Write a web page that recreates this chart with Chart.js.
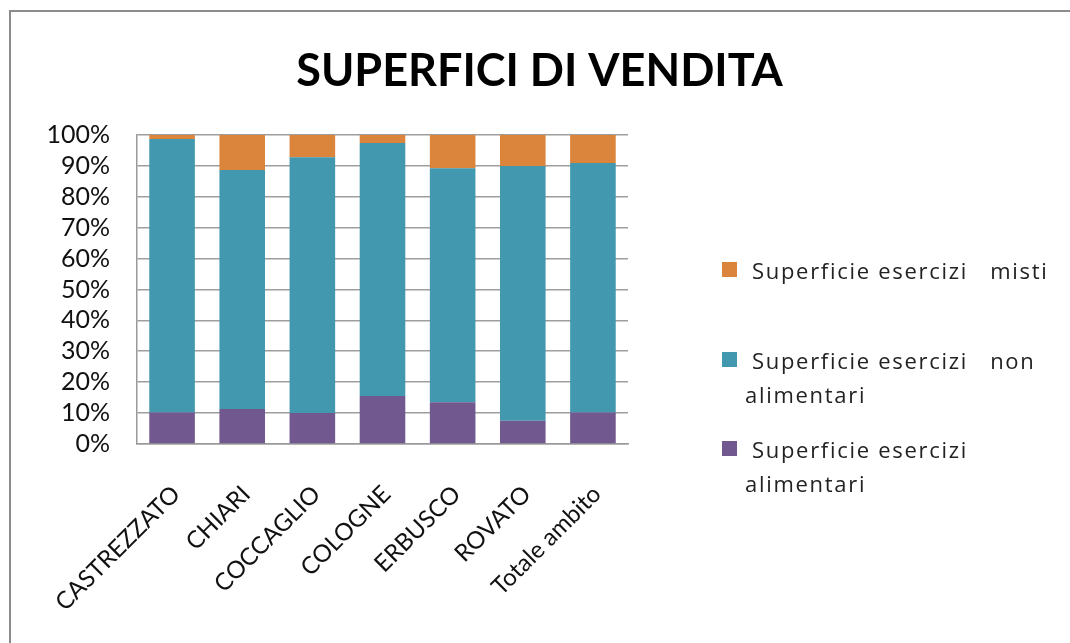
<!DOCTYPE html>
<html>
<head>
<meta charset="utf-8">
<script src="https://cdn.jsdelivr.net/npm/chart.js@4/dist/chart.umd.min.js"></script>
<style>
  html, body { margin: 0; padding: 0; background: #fff; }
  #wrap { position: relative; width: 1070px; height: 643px; overflow: hidden; }
  #frame { position: absolute; left: 9px; top: 10px; right: -10px; bottom: -10px;
           border-top: 2px solid #8c8c8c; border-left: 2px solid #8c8c8c; pointer-events: none; }
  #legend { position: absolute; left: 722px; top: 0; width: 345px;
            font-family: "Open Sans", Lato, sans-serif; font-size: 22px; letter-spacing: 1.7px; color: #222; }
  .item { position: absolute; left: 0; width: 345px; line-height: 34px; }
  .sw { position: absolute; left: 0; width: 15px; height: 15px; }
  .txt { position: absolute; left: 23px; width: 318px; white-space: pre-wrap; text-indent: 7px; }
</style>
</head>
<body>
<div id="wrap">
  <canvas id="c"></canvas>
  <div id="legend"></div>
  <div id="frame"></div>
</div>
<script>
const categories = ["CASTREZZATO", "CHIARI", "COCCAGLIO", "COLOGNE", "ERBUSCO", "ROVATO", "Totale ambito"];
const seriesNames = ["Superficie esercizi alimentari", "Superficie esercizi   non alimentari", "Superficie esercizi   misti"];
const alimentari = [10.2, 11.3, 10.0, 15.5, 13.5, 7.5, 10.2];
const nonAlimentari = [88.5, 77.4, 82.8, 81.9, 75.7, 82.5, 80.7];
const misti = [1.3, 11.3, 7.2, 2.6, 10.8, 10.0, 9.1];
const yTicks = [0, 10, 20, 30, 40, 50, 60, 70, 80, 90, 100];
const colors = ["#71588F", "#4298AF", "#DA843C"];

const FONT = 'Lato, "Open Sans", sans-serif';

const chart = new Chart(document.getElementById('c'), {
  type: 'bar',
  data: {
    labels: categories,
    datasets: [
      { label: seriesNames[0], data: alimentari, backgroundColor: colors[0] },
      { label: seriesNames[1], data: nonAlimentari, backgroundColor: colors[1] },
      { label: seriesNames[2], data: misti, backgroundColor: colors[2] }
    ]
  },
  options: {
    responsive: true,
    maintainAspectRatio: false,
    animation: false,
    layout: { padding: { left: 9, right: 0, top: 0, bottom: 0 } },
    datasets: { bar: { categoryPercentage: 1, barPercentage: 0.65 } },
    plugins: {
      legend: { display: false },
      tooltip: { enabled: false },
      title: {
        display: true,
        text: 'SUPERFICI DI VENDITA',
        color: '#000',
        font: { family: FONT, size: 45, weight: 'bold' },
        padding: { top: 44, bottom: 37 }
      }
    },
    scales: {
      x: {
        stacked: true,
        grid: { display: false, drawTicks: false },
        border: { display: true, color: '#9a9a9a', width: 1.5 },
        ticks: {
          color: '#111',
          font: { family: FONT, size: 24 },
          minRotation: 45, maxRotation: 45,
          padding: 36,
          labelOffset: 4,
          autoSkip: false
        },
        afterFit: s => { s.height = 199; }
      },
      y: {
        stacked: true,
        min: 0, max: 100,
        afterBuildTicks: s => { s.ticks = yTicks.map(v => ({ value: v })); },
        grid: { color: '#9e9e9e', lineWidth: 1.6, drawTicks: false },
        border: { display: true, color: '#9a9a9a', width: 1.5 },
        ticks: {
          color: '#111',
          font: { family: FONT, size: 25 },
          padding: 27,
          autoSkip: false,
          callback: v => v + '%'
        },
        afterFit: s => { s.width = 128; }
      },
      yRight: {
        position: 'right',
        display: true,
        grid: { display: false, drawTicks: false },
        border: { display: false },
        ticks: { display: false },
        afterFit: s => { s.width = 442; }
      }
    }
  }
});

// HTML legend built from the chart's datasets (reverse order, like the reference)
const legend = document.getElementById('legend');
const itemTops = [253, 343, 432];
const order = [2, 1, 0];
order.forEach((di, i) => {
  const ds = chart.data.datasets[di];
  const it = document.createElement('div');
  it.className = 'item';
  it.style.top = itemTops[i] + 'px';
  const sw = document.createElement('div');
  sw.className = 'sw';
  sw.style.background = ds.backgroundColor;
  sw.style.top = '9px';
  const tx = document.createElement('div');
  tx.className = 'txt';
  tx.textContent = ds.label;
  it.appendChild(sw);
  it.appendChild(tx);
  legend.appendChild(it);
});
</script>
</body>
</html>
